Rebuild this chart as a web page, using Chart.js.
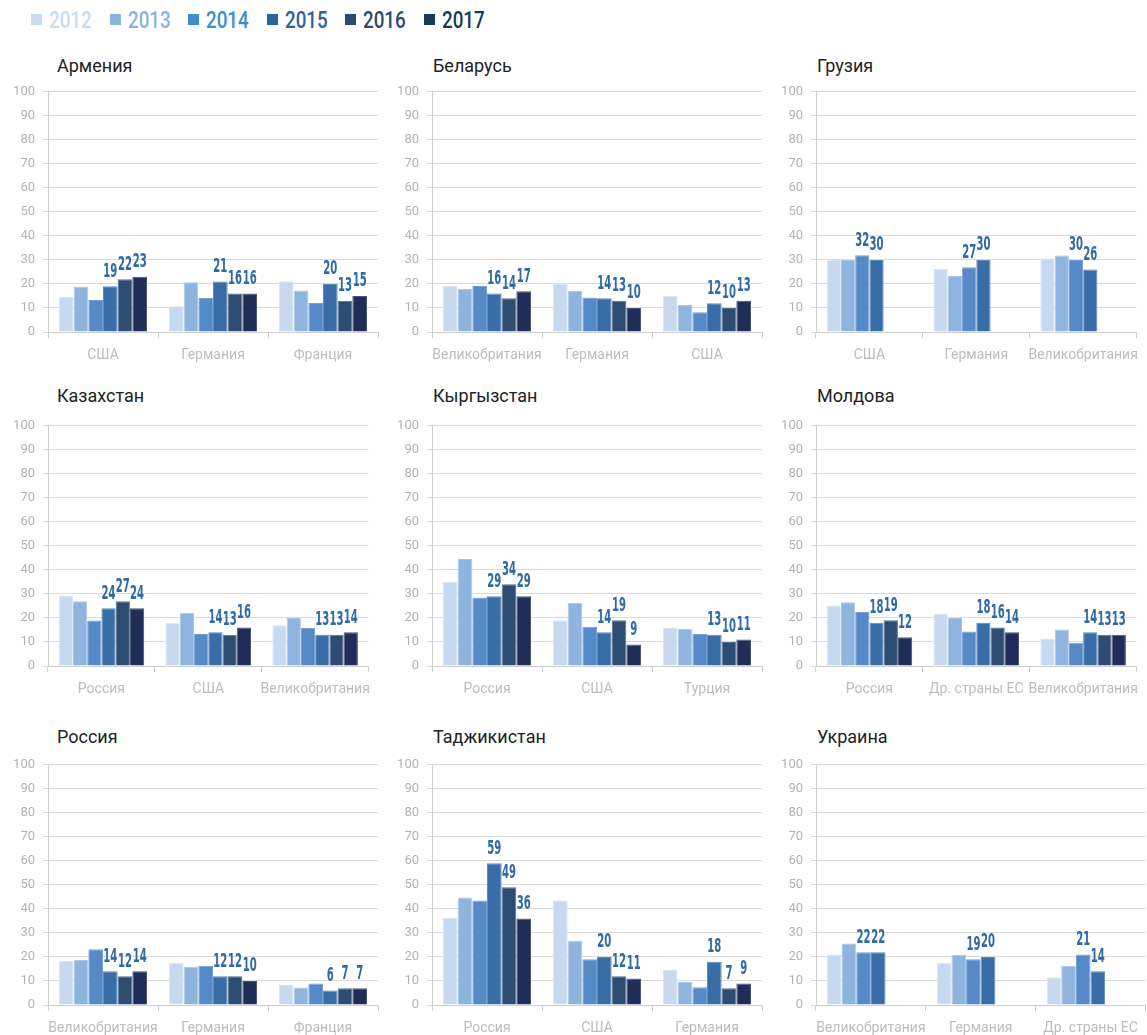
<!DOCTYPE html>
<html lang="ru">
<head>
<meta charset="utf-8">
<title>Страны назначения, 2012–2017</title>
<script src="https://cdn.jsdelivr.net/npm/chart.js@4.4.1/dist/chart.umd.min.js"></script>
<style>
  html, body { margin: 0; padding: 0; background: #fff; }
  #page { position: relative; width: 1147px; height: 1035px; overflow: hidden; }
  .legend-item { position: absolute; top: 6px; height: 26px; line-height: 26px; white-space: nowrap;
                 font: 500 23.5px Roboto, sans-serif; }
  .legend-item i { position: absolute; left: 0; top: 8px; width: 11px; height: 11px; }
  .legend-item span { position: absolute; left: 18px; top: 0; transform: scaleX(0.8); transform-origin: 0 50%; }
  .panel-title { position: absolute; font: 18px Roboto, sans-serif; line-height: 20px; color: #222; white-space: nowrap; }
  canvas { position: absolute; }
</style>
</head>
<body>
<div id="page"></div>
<script>
// Years shown in every panel
const years = ['2012', '2013', '2014', '2015', '2016', '2017'];

// Years whose bars carry a value label
const labelledLate = ['2015', '2016', '2017'];
const labelledShort = ['2014', '2015'];

// Армения
const armeniaCategories = ['США', 'Германия', 'Франция'];
const armeniaValues = [
  [14.7, 10.7, 21.1],
  [18.9, 20.7, 17.3],
  [13.3, 14.2, 12.1],
  [19, 21, 20],
  [22, 16, 13],
  [23, 16, 15]
];

// Беларусь
const belarusCategories = ['Великобритания', 'Германия', 'США'];
const belarusValues = [
  [19.2, 20.1, 15.0],
  [18.0, 17.1, 11.2],
  [19.2, 14.4, 8.2],
  [16, 14, 12],
  [14, 13, 10],
  [17, 10, 13]
];

// Грузия
const georgiaCategories = ['США', 'Германия', 'Великобритания'];
const georgiaValues = [
  [30.1, 26.3, 30.6],
  [30.0, 23.3, 31.8],
  [32, 27, 30],
  [30, 30, 26],
  [null, null, null],
  [null, null, null]
];

// Казахстан
const kazakhstanCategories = ['Россия', 'США', 'Великобритания'];
const kazakhstanValues = [
  [29.3, 18.0, 17.0],
  [27.0, 22.2, 20.0],
  [18.9, 13.3, 15.8],
  [24, 14, 13],
  [27, 13, 13],
  [24, 16, 14]
];

// Кыргызстан
const kyrgyzstanCategories = ['Россия', 'США', 'Турция'];
const kyrgyzstanValues = [
  [35.0, 19.0, 16.0],
  [44.5, 26.3, 15.5],
  [28.5, 16.3, 13.3],
  [29, 14, 13],
  [34, 19, 10],
  [29, 9, 11]
];

// Молдова
const moldovaCategories = ['Россия', 'Др. страны ЕС', 'Великобритания'];
const moldovaValues = [
  [25.2, 21.8, 11.4],
  [26.5, 20.0, 15.2],
  [22.5, 14.4, 9.7],
  [18, 18, 14],
  [19, 16, 13],
  [12, 14, 13]
];

// Россия
const russiaCategories = ['Великобритания', 'Германия', 'Франция'];
const russiaValues = [
  [18.3, 17.5, 8.5],
  [18.7, 15.9, 7.3],
  [23.2, 16.3, 8.9],
  [14, 12, 6],
  [12, 12, 7],
  [14, 10, 7]
];

// Таджикистан
const tajikistanCategories = ['Россия', 'США', 'Германия'];
const tajikistanValues = [
  [36.2, 43.5, 14.8],
  [44.8, 26.8, 9.6],
  [43.5, 19.0, 7.4],
  [59, 20, 18],
  [49, 12, 7],
  [36, 11, 9]
];

// Украина
const ukraineCategories = ['Великобритания', 'Германия', 'Др. страны ЕС'];
const ukraineValues = [
  [21.0, 17.5, 11.6],
  [25.6, 20.9, 16.3],
  [22, 19, 21],
  [22, 20, 14],
  [null, null, null],
  [null, null, null]
];

const panels = [
  { title: 'Армения',     categories: armeniaCategories,    values: armeniaValues,    labelled: labelledLate },
  { title: 'Беларусь',    categories: belarusCategories,    values: belarusValues,    labelled: labelledLate },
  { title: 'Грузия',      categories: georgiaCategories,    values: georgiaValues,    labelled: labelledShort },
  { title: 'Казахстан',   categories: kazakhstanCategories, values: kazakhstanValues, labelled: labelledLate },
  { title: 'Кыргызстан',  categories: kyrgyzstanCategories, values: kyrgyzstanValues, labelled: labelledLate },
  { title: 'Молдова',     categories: moldovaCategories,    values: moldovaValues,    labelled: labelledLate },
  { title: 'Россия',      categories: russiaCategories,     values: russiaValues,     labelled: labelledLate },
  { title: 'Таджикистан', categories: tajikistanCategories, values: tajikistanValues, labelled: labelledLate },
  { title: 'Украина',     categories: ukraineCategories,    values: ukraineValues,    labelled: labelledShort }
];

// ---- styling ----
const barColors    = ['#c6d9ef', '#8fb4de', '#5589c8', '#386da7', '#2c4c72', '#202d58'];
const barEdges     = ['#d9e6f5', '#a9c6e6', '#76a0d4', '#6189b9', '#53708f', '#4a5578'];
const legendColors = ['#c8dcf0', '#8ab4e0', '#3e8dcc', '#2a6498', '#2c4a70', '#173a58'];
const labelColor = '#2f6aa5';

// ---- layout (page pixels) ----
const plotLeft  = [48, 432, 816];
const plotTop   = [88, 422, 761];
const titleLeft = [57, 433, 817];
const titleMid  = [66, 396, 737];
const Y_AXIS_W = 48, X_AXIS_H = 36, PAD_TOP = 12, PLOT_W = 330, PLOT_H = 244;

const page = document.getElementById('page');

// Legend row
years.forEach((y, k) => {
  const item = document.createElement('div');
  item.className = 'legend-item';
  item.style.left = (31 + k * 78.6) + 'px';
  item.style.color = legendColors[k];
  item.innerHTML = '<i style="background:' + legendColors[k] + '"></i><span>' + y + '</span>';
  page.appendChild(item);
});

// Value labels above the selected bars, in a tall narrow face
const valueLabels = {
  id: 'valueLabels',
  afterDatasetsDraw(chart, args, opts) {
    const ctx = chart.ctx;
    ctx.save();
    ctx.font = 'bold 19px "Liberation Sans Narrow", "DejaVu Sans Condensed", sans-serif';
    ctx.fillStyle = opts.color;
    ctx.textAlign = 'center';
    ctx.textBaseline = 'alphabetic';
    const sx = opts.digitWidth * 4 / ctx.measureText('0000').width;
    chart.data.datasets.forEach((ds, k) => {
      if (!opts.years.includes(ds.label)) return;
      const meta = chart.getDatasetMeta(k);
      meta.data.forEach((bar, j) => {
        const v = ds.data[j];
        if (v === null || v === undefined) return;
        ctx.save();
        ctx.translate(bar.x, bar.y - opts.gap);
        ctx.scale(sx, 1);
        ctx.fillText(String(Math.round(v)), 0, 0);
        ctx.restore();
      });
    });
    ctx.restore();
  }
};

panels.forEach((p, i) => {
  const col = i % 3, row = Math.floor(i / 3);

  const t = document.createElement('div');
  t.className = 'panel-title';
  t.textContent = p.title;
  t.style.left = titleLeft[col] + 'px';
  t.style.top = (titleMid[row] - 10) + 'px';
  page.appendChild(t);

  const cw = Y_AXIS_W + PLOT_W + 1;
  const ch = PAD_TOP + PLOT_H + X_AXIS_H;
  const canvas = document.createElement('canvas');
  canvas.width = cw; canvas.height = ch;
  canvas.style.width = cw + 'px'; canvas.style.height = ch + 'px';
  canvas.style.left = (plotLeft[col] - Y_AXIS_W) + 'px';
  canvas.style.top = (plotTop[row] - PAD_TOP) + 'px';
  page.appendChild(canvas);

  new Chart(canvas, {
    type: 'bar',
    data: {
      labels: p.categories,
      datasets: years.map((y, k) => ({
        label: y,
        data: p.values[k],
        backgroundColor: barColors[k],
        borderColor: barEdges[k],
        borderWidth: { top: 1, left: 1, right: 1, bottom: 0 },
        borderSkipped: 'bottom',
        categoryPercentage: 0.8,
        barPercentage: 1.0
      }))
    },
    options: {
      responsive: false,
      animation: false,
      events: [],
      layout: { padding: { top: PAD_TOP, right: 1, left: 0, bottom: 0 } },
      plugins: {
        legend: { display: false },
        tooltip: { enabled: false },
        valueLabels: { years: p.labelled, color: labelColor, gap: 9.5, digitWidth: 7 }
      },
      scales: {
        x: {
          grid: { drawOnChartArea: false, drawTicks: true, tickLength: 6, color: '#cfcfcf', offset: true },
          border: { color: '#cfcfcf' },
          ticks: { color: '#bdbdbd', font: { family: 'Roboto', size: 14 }, padding: 9, maxRotation: 0, autoSkip: false },
          afterFit(s) { s.height = X_AXIS_H; }
        },
        y: {
          min: 0, max: 100,
          grid: { color: '#dadada', tickLength: 5 },
          border: { color: '#cfcfcf' },
          ticks: { stepSize: 10, color: '#b3b3b3', font: { family: 'Roboto', size: 13 }, padding: 8 },
          afterFit(s) { s.width = Y_AXIS_W; }
        }
      }
    },
    plugins: [valueLabels]
  });
});
</script>
</body>
</html>
